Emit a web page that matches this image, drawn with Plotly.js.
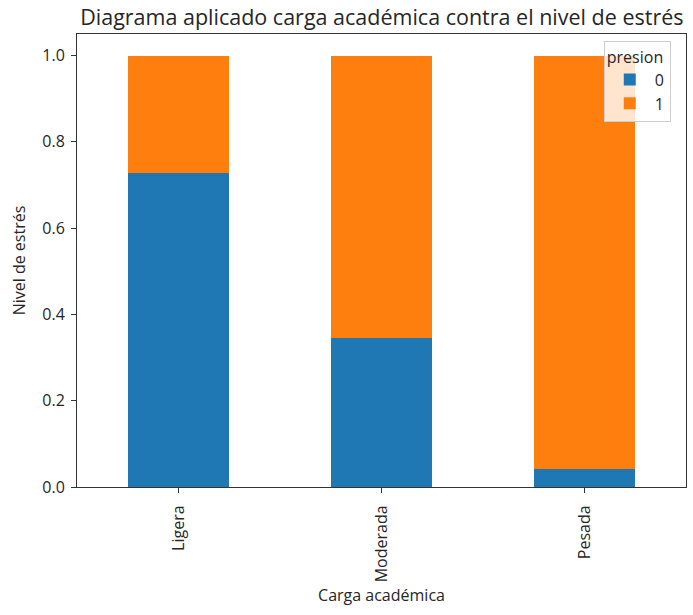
<!DOCTYPE html>
<html>
<head>
<meta charset="utf-8">
<script src="https://cdn.plot.ly/plotly-3.0.1.min.js"></script>
<style>html,body{margin:0;padding:0;background:#fff;}#chart{width:693px;height:615px;}</style>
</head>
<body>
<div id="chart"></div>
<script>
const categories = ["Ligera", "Moderada", "Pesada"];
const presion0 = [0.728, 0.346, 0.041];
const presion1 = [0.272, 0.654, 0.959];
const seriesNames = ["0", "1"];
const yTicks = [0.0, 0.2, 0.4, 0.6, 0.8, 1.0];

const FF = "Open Sans, Noto Sans, sans-serif";
const font = {family: FF, size: 16, color: "#262626"};
const traces = [
  {type: "bar", x: categories, y: presion0, name: seriesNames[0], marker: {color: "#1f77b4"}, width: 0.5},
  {type: "bar", x: categories, y: presion1, name: seriesNames[1], marker: {color: "#ff7f0e"}, width: 0.5}
];
const layout = {
  width: 693, height: 615,
  barmode: "stack",
  font: font,
  paper_bgcolor: "#fff", plot_bgcolor: "#fff",
  margin: {l: 77, r: 7, t: 34, b: 128},
  title: {text: "Diagrama aplicado carga académica contra el nivel de estrés", x: 0.551, xanchor: "center", y: 0.971, yanchor: "middle", font: {family: FF, size: 21.5, color: "#262626"}},
  xaxis: {
    type: "category", range: [-0.5, 2.5], tickangle: -90,
    showline: true, mirror: true, linecolor: "#333", linewidth: 1,
    ticks: "outside", ticklen: 5, tickcolor: "#333", showgrid: false,
    ticklabelstandoff: 6,
    title: {text: "Carga académica", standoff: 8, font: {size: 16}}
  },
  yaxis: {
    range: [0, 1.05], tickvals: yTicks, tickformat: ".1f",
    showline: true, mirror: true, linecolor: "#333", linewidth: 1,
    ticks: "outside", ticklen: 5, tickcolor: "#333", showgrid: false, zeroline: false,
    ticklabelstandoff: 3,
    title: {text: "Nivel de estrés", standoff: 12, font: {size: 16}}
  },
  legend: {
    title: {text: "presion", font: {size: 16}},
    x: 0.975, xanchor: "right", y: 0.985, yanchor: "top",
    bgcolor: "rgba(255,255,255,0.8)", bordercolor: "#ccc", borderwidth: 1,
    font: {size: 16}, traceorder: "normal", itemwidth: 40
  },
  showlegend: true
};
Plotly.newPlot("chart", traces, layout, {displayModeBar: false, staticPlot: true});
</script>
</body>
</html>
